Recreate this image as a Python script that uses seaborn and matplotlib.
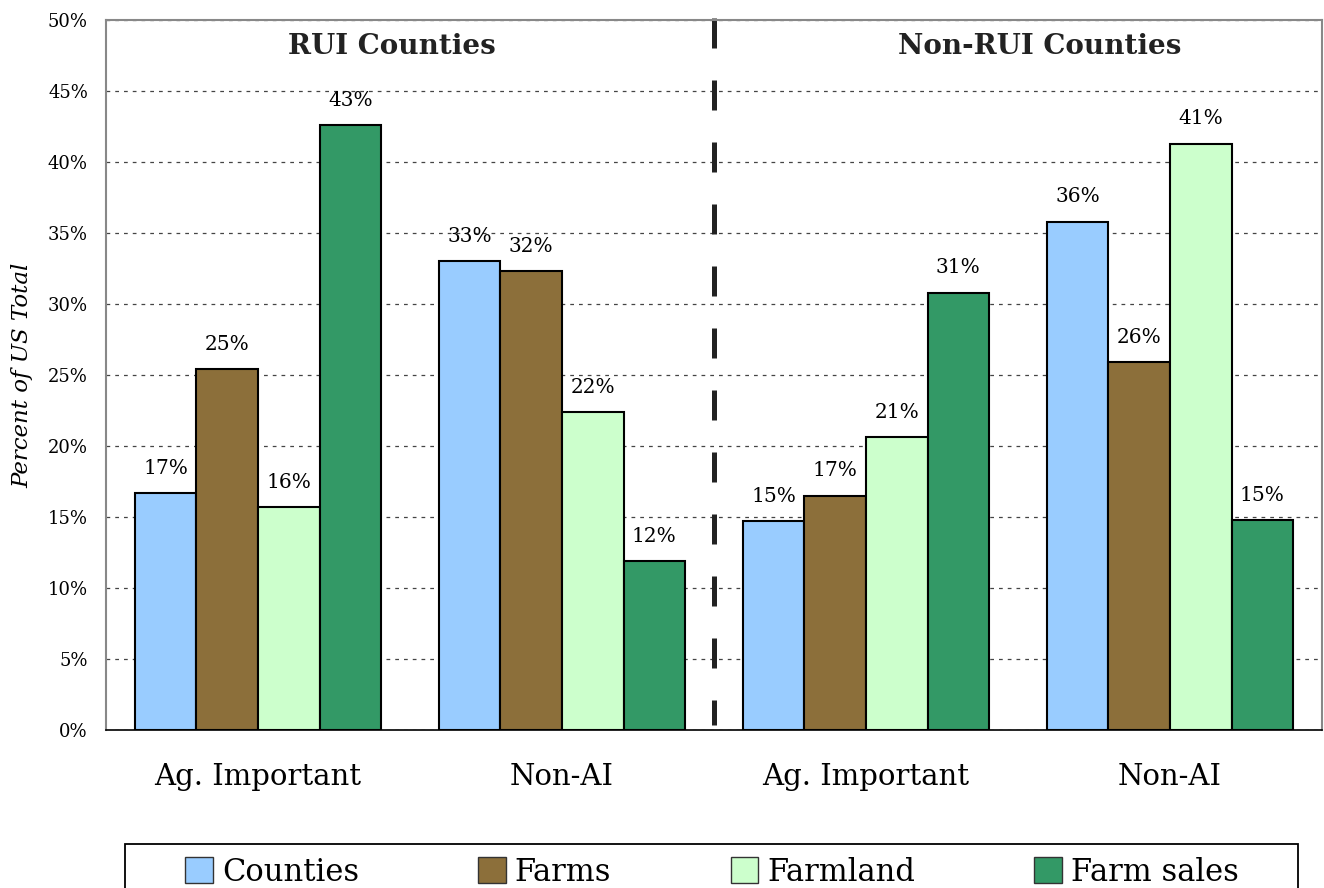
import matplotlib
matplotlib.use("Agg")
import matplotlib.pyplot as plt
import seaborn as sns
import pandas as pd
import numpy as np
from matplotlib.patches import Patch, Rectangle

# ---- data ----
groups = ["RUI Ag. Important", "RUI Non-AI", "Non-RUI Ag. Important", "Non-RUI Non-AI"]
tick_labels = ["Ag. Important", "Non-AI", "Ag. Important", "Non-AI"]
series = ["Counties", "Farms", "Farmland", "Farm sales"]
counties = [16.7, 33.0, 14.7, 35.8]
farms = [25.4, 32.3, 16.5, 25.9]
farmland = [15.7, 22.4, 20.6, 41.3]
farm_sales = [42.6, 11.9, 30.8, 14.8]
value_labels = {
    "Counties": ["17%", "33%", "15%", "36%"],
    "Farms": ["25%", "32%", "17%", "26%"],
    "Farmland": ["16%", "22%", "21%", "41%"],
    "Farm sales": ["43%", "12%", "31%", "15%"],
}
section_titles = ["RUI Counties", "Non-RUI Counties"]
colors = ["#99ccff", "#8c6f3a", "#ccffcc", "#339966"]

rows = []
for s, vals in zip(series, [counties, farms, farmland, farm_sales]):
    for g, v in zip(groups, vals):
        rows.append({"group": g, "series": s, "value": v})
df = pd.DataFrame(rows)

sns.set_style("white")
plt.rcParams["font.family"] = ["DejaVu Serif"]
plt.rcParams["text.color"] = "black"
plt.rcParams["axes.labelcolor"] = "black"
plt.rcParams["xtick.color"] = "black"
plt.rcParams["ytick.color"] = "black"

W, H = 1324, 888
fig = plt.figure(figsize=(W / 100, H / 100), dpi=100)
L, R, T, B = 106, 1322, 20, 730
ax = fig.add_axes([L / W, 1 - B / H, (R - L) / W, (B - T) / H])

sns.barplot(data=df, x="group", y="value", hue="series", order=groups,
            hue_order=series, palette=colors, width=0.81, ax=ax,
            edgecolor="black", linewidth=1.5, legend=False, saturation=1)

ax.set_xlim(-0.5, 3.5)
ax.set_ylim(0, 50)
ax.set_yticks(np.arange(0, 51, 5))
ax.set_yticklabels([f"{v}%" for v in range(0, 51, 5)], fontsize=13)
ax.set_axisbelow(True)
ax.yaxis.grid(True, linestyle=(0, (3, 4)), color="#444444", linewidth=0.9)
ax.xaxis.grid(False)

# x ticks: labels at group centers, tick marks at boundaries
ax.set_xticks(range(len(groups)))
ax.set_xticklabels(tick_labels, fontsize=21)
ax.tick_params(axis="x", length=0, pad=24)
ax.set_xticks([-0.5, 0.5, 1.5, 2.5, 3.5], minor=True)
ax.tick_params(axis="x", which="minor", length=10, width=1, color="black", direction="out")
ax.tick_params(axis="y", length=5, width=1, color="#555555", direction="out", pad=8)
ax.set_xlabel("")
ax.set_ylabel("Percent of US Total", fontsize=16.5, style="italic")
ax.yaxis.set_label_coords((33 - L) / (R - L), 0.5)

for side in ["left", "top", "right"]:
    ax.spines[side].set_color("#888888")
    ax.spines[side].set_linewidth(1.5)
ax.spines["bottom"].set_color("black")
ax.spines["bottom"].set_linewidth(1.2)

# value labels
for container, s in zip(ax.containers, series):
    ax.bar_label(container, labels=value_labels[s], padding=11, fontsize=14.5)

# section divider (dashes start at the top)
ax.plot([1.5, 1.5], [50.15, 0.35], color="#222222", linewidth=3.6,
        linestyle=(0, (6, 6.4)), clip_on=False, solid_capstyle="butt",
        dash_capstyle="butt")

# section titles
ax.text(0.44, 48.1, section_titles[0], ha="center", va="center",
        fontsize=20, fontweight="bold", color="#222222")
ax.text(2.57, 48.1, section_titles[1], ha="center", va="center",
        fontsize=20, fontweight="bold", color="#222222")

# legend box (runs off the bottom edge like the reference)
fig.patches.append(Rectangle((125 / W, -0.05), (1298 - 125) / W, 0.05 + 1 - 844 / H,
                             transform=fig.transFigure, fill=False,
                             edgecolor="black", linewidth=1.3))
handles = [Patch(facecolor=c, edgecolor="#333333", linewidth=1) for c in colors]
leg = fig.legend(handles, series, loc="center", ncol=4,
                 bbox_to_anchor=(712 / W, 1 - 872 / H),
                 fontsize=22, frameon=False,
                 handlelength=0.9, handleheight=0.9, handletextpad=0.3,
                 borderpad=0.0, columnspacing=3.9)

fig.savefig("out.png", dpi=100)
